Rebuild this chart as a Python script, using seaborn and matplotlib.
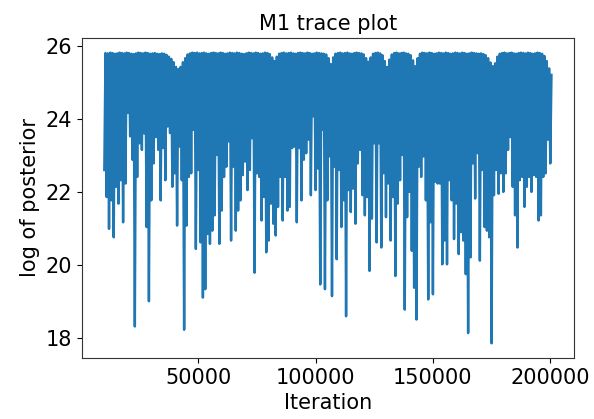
import numpy as np
import pandas as pd
import matplotlib
matplotlib.use("Agg")
import matplotlib.pyplot as plt
import seaborn as sns

# Sampler trace, summarised per block of 1000 iterations (burn-in of 10000 dropped):
# the lowest and the highest log-posterior visited inside each block.
block_start = 10000
block_size = 1000

block_low = [
    22.60, 21.86, 20.99, 21.77, 20.76, 22.14, 21.68, 22.32, 21.17, 22.23,
    24.16, 23.52, 22.88, 18.32, 22.41, 23.33, 23.15, 23.60, 21.04, 19.01,
    21.77, 22.78, 23.50, 23.15, 21.77, 23.20, 22.32, 23.79, 23.61, 22.14,
    22.51, 21.08, 23.24, 22.32, 18.23, 21.08, 22.41, 22.51, 23.70, 20.44,
    22.60, 20.62, 19.11, 19.34, 20.85, 20.58, 20.94, 21.36, 23.01, 20.58,
    21.49, 22.41, 22.69, 23.38, 20.67, 22.69, 20.94, 21.49, 21.77, 22.46,
    22.83, 22.05, 22.60, 23.47, 19.79, 22.51, 22.41, 21.22, 21.86, 20.35,
    20.67, 21.68, 21.13, 20.81, 21.59, 22.41, 21.22, 22.41, 21.49, 21.59,
    23.20, 23.24, 21.17, 23.20, 21.77, 22.88, 23.06, 23.43, 21.91, 24.07,
    22.05, 22.64, 19.47, 23.70, 19.34, 21.77, 22.97, 19.15, 22.69, 20.16,
    22.60, 21.04, 21.77, 18.60, 22.05, 21.45, 22.09, 21.13, 22.78, 23.15,
    21.91, 21.36, 21.86, 19.84, 21.27, 23.33, 20.62, 23.33, 20.48, 22.51,
    21.31, 22.23, 20.67, 21.86, 19.70, 21.68, 22.32, 23.01, 18.78, 21.31,
    22.00, 20.39, 19.38, 18.51, 22.69, 22.41, 22.97, 21.77, 19.06, 21.17,
    19.20, 22.28, 22.23, 22.23, 20.02, 20.67, 20.02, 22.32, 21.77, 20.71,
    21.68, 20.30, 20.90, 20.67, 19.75, 18.14, 20.21, 22.78, 21.82, 23.06,
    20.12, 22.60, 21.04, 20.94, 20.76, 17.86, 21.91, 22.60, 21.95, 22.51,
    22.00, 22.51, 23.15, 23.50, 22.14, 21.36, 20.48, 22.32, 22.41, 21.59,
    22.14, 22.41, 22.00, 22.46, 22.41, 21.22, 21.36, 22.41, 22.51, 23.43,
    22.78,
]

block_high = [
    25.80, 25.79, 25.81, 25.80, 25.78, 25.79, 25.81, 25.80, 25.79, 25.81,
    25.80, 25.78, 25.77, 25.79, 25.81, 25.80, 25.79, 25.81, 25.80, 25.78,
    25.79, 25.80, 25.78, 25.77, 25.79, 25.78, 25.75, 25.70, 25.64, 25.55,
    25.42, 25.36, 25.42, 25.55, 25.66, 25.76, 25.79, 25.81, 25.80, 25.81,
    25.79, 25.80, 25.81, 25.79, 25.78, 25.80, 25.81, 25.80, 25.79, 25.81,
    25.80, 25.78, 25.79, 25.81, 25.80, 25.79, 25.81, 25.80, 25.78, 25.77,
    25.79, 25.81, 25.80, 25.79, 25.81, 25.80, 25.78, 25.79, 25.81, 25.80,
    25.77, 25.68, 25.58, 25.70, 25.78, 25.80, 25.81, 25.79, 25.80, 25.81,
    25.79, 25.78, 25.80, 25.81, 25.80, 25.79, 25.81, 25.80, 25.78, 25.79,
    25.81, 25.80, 25.79, 25.78, 25.76, 25.66, 25.50, 25.68, 25.78, 25.80,
    25.81, 25.79, 25.80, 25.81, 25.79, 25.78, 25.80, 25.81, 25.80, 25.79,
    25.76, 25.66, 25.56, 25.68, 25.78, 25.80, 25.81, 25.79, 25.74, 25.58,
    25.42, 25.62, 25.76, 25.80, 25.81, 25.79, 25.80, 25.81, 25.79, 25.78,
    25.74, 25.60, 25.44, 25.66, 25.78, 25.81, 25.80, 25.79, 25.81, 25.80,
    25.78, 25.79, 25.81, 25.80, 25.79, 25.81, 25.80, 25.78, 25.79, 25.81,
    25.80, 25.79, 25.81, 25.80, 25.78, 25.79, 25.81, 25.80, 25.79, 25.78,
    25.79, 25.77, 25.74, 25.66, 25.54, 25.44, 25.52, 25.70, 25.78, 25.80,
    25.81, 25.79, 25.80, 25.81, 25.79, 25.78, 25.80, 25.81, 25.80, 25.79,
    25.81, 25.80, 25.78, 25.79, 25.81, 25.80, 25.78, 25.72, 25.58, 25.38,
    25.20,
]

title = "M1 trace plot"
x_label = "Iteration"
y_label = "log of posterior"

# Walk the chain low -> high inside every block
n_blocks = len(block_low)
iteration = block_start + block_size * np.arange(n_blocks)
trace_iter = np.empty(2 * n_blocks)
trace_val = np.empty(2 * n_blocks)
trace_iter[0::2] = iteration
trace_iter[1::2] = iteration + block_size // 2
trace_val[0::2] = block_low
trace_val[1::2] = block_high
df = pd.DataFrame({"Iteration": trace_iter, "log_post": trace_val})

plt.rcParams["font.family"] = ["DejaVu Sans"]
plt.rcParams["font.size"] = 15

fig = plt.figure(figsize=(5.94, 4.19), dpi=100)
ax = fig.add_axes([0.138, 0.146, 0.828, 0.763])
sns.lineplot(data=df, x="Iteration", y="log_post", ax=ax, sort=False,
             estimator=None, color="#1f77b4", linewidth=1.75)

ax.set_title(title, fontsize=15)
ax.set_xlabel(x_label, fontsize=15)
ax.set_ylabel(y_label, fontsize=15)
ax.tick_params(labelsize=15)
ax.set_yticks([18, 20, 22, 24, 26])
ax.set_xticks([50000, 100000, 150000, 200000])
for s in ax.spines.values():
    s.set_color("#333333")
    s.set_linewidth(0.8)

fig.savefig("out.png", dpi=100)
